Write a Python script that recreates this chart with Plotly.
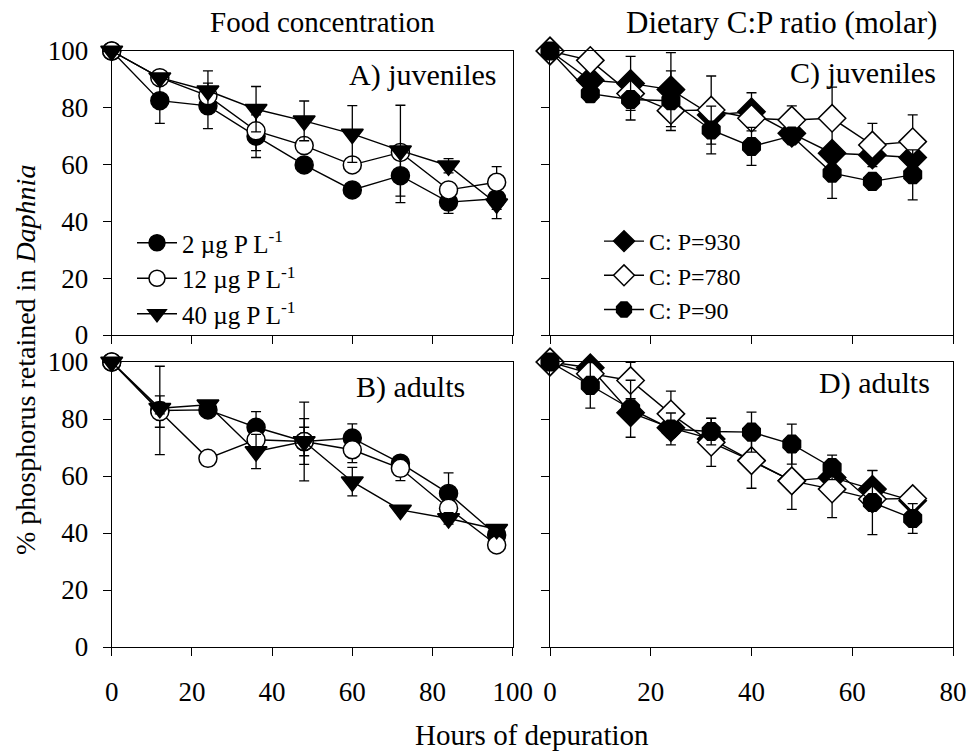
import plotly.graph_objects as go

# ---------------- data ----------------
hours_food = [0, 12, 24, 36, 48, 60, 72, 84, 96]
hours_cp = [0, 8, 16, 24, 32, 40, 48, 56, 64, 72]

# Panel A (juveniles, food concentration)
A_2 = [100, 82.5, 80.7, 70, 59.9, 51.1, 56.1, 46.8, 48.0]
A_2_err = [0, 8, 8, 7.5, 2, 1, 9.5, 4, 7]
A_12 = [100, 90.6, 84.2, 71.9, 66.7, 59.9, 64.3, 51.1, 53.8]
A_12_err = [0, 1, 3, 7, 2, 2, 1, 2, 5.5]
A_40 = [100, 90.6, 86, 79.5, 75.4, 70.8, 64.9, 59.6, 46.2]
A_40_err = [0, 1, 7, 8, 7, 10, 16, 2.5, 2]

# Panel B (adults, food concentration)
B_2 = [100, 83, 83.2, 77.1, 72.1, 73.3, 64.5, 53.9, 39.3]
B_2_err = [0, 15.5, 2, 5.5, 13.8, 5, 1, 7.2, 1]
B_12 = [100, 82.6, 66.2, 72.7, 72.1, 69.2, 62.7, 48.7, 35.8]
B_12_err = [0, 5.5, 1, 3, 5, 4.5, 4.3, 2, 1]
B_40 = [100, 83.8, 85, 68.6, 72.1, 58, 48.1, 45.1, 41.3]
B_40_err = [0, 2, 1, 6, 8, 5, 1, 2, 1]

# Panel C (juveniles, C:P ratio)
C_930 = [100, 89.7, 88.6, 86.4, 77.5, 78.6, 71, 64, 63.4, 62.5]
C_930_err = [0, 2, 9.5, 13, 3, 6.7, 2, 3, 2, 2]
C_780 = [100, 96.7, 85, 79, 79.2, 76.3, 75.7, 76.3, 66.9, 68.1]
C_780_err = [0, 1, 2, 3, 12, 3, 5, 11, 7.6, 9.4]
C_90 = [100, 85, 82.9, 82.5, 72.2, 66.4, 70.1, 57, 54.1, 56.4]
C_90_err = [0, 3, 7.2, 10.5, 8.4, 6.7, 2, 8.9, 2.5, 8.8]

# Panel D (adults, C:P ratio)
D_930 = [100, 98, 82.2, 76.9, 73, 65.4, 58.3, 59.5, 55.4, 51.3]
D_930_err = [0, 1, 2, 2, 2, 9.7, 10, 2, 6.5, 1.5]
D_780 = [100, 95.9, 93.5, 81.8, 71.8, 65.4, 58.3, 55.4, 51.9, 52.1]
D_780_err = [0, 1, 6.4, 8, 8.4, 3, 3, 10, 3, 1.5]
D_90 = [100, 91.8, 83.6, 76.5, 75.6, 75.4, 71.2, 63, 50.7, 45.1]
D_90_err = [0, 8, 10, 5.6, 4.7, 7, 7, 4.3, 11.3, 5.2]

food_names = ["2 µg P L<sup>-1</sup>", "12 µg P L<sup>-1</sup>", "40 µg P L<sup>-1</sup>"]
cp_names = ["C: P=930", "C: P=780", "C: P=90"]
y_ticks = [0, 20, 40, 60, 80, 100]
x_ticks_food = [0, 20, 40, 60, 80, 100]
x_ticks_cp = [0, 20, 40, 60, 80]

FONT = "Liberation Serif"
BLACK = "black"

fig = go.Figure()


def add(x, y, err, name, symbol, fill, size, xa, ya, legend, show):
    fig.add_trace(go.Scatter(
        x=x, y=y, name=name, mode="lines+markers",
        xaxis=xa, yaxis=ya, legend=legend, showlegend=show,
        cliponaxis=False,
        line=dict(color=BLACK, width=1.4),
        marker=dict(symbol=symbol, size=size, color=fill,
                    line=dict(color=BLACK, width=1.5)),
        error_y=dict(type="data", array=err, visible=True,
                     color=BLACK, thickness=1.3, width=5),
    ))


# Panel A
add(hours_food, A_2, A_2_err, food_names[0], "circle", BLACK, 18, "x", "y", "legend", True)
add(hours_food, A_12, A_12_err, food_names[1], "circle", "white", 18, "x", "y", "legend", True)
add(hours_food, A_40, A_40_err, food_names[2], "triangle-down", BLACK, 19, "x", "y", "legend", True)
# Panel B
add(hours_food, B_2, B_2_err, food_names[0], "circle", BLACK, 18, "x3", "y3", "legend", False)
add(hours_food, B_12, B_12_err, food_names[1], "circle", "white", 18, "x3", "y3", "legend", False)
add(hours_food, B_40, B_40_err, food_names[2], "triangle-down", BLACK, 19, "x3", "y3", "legend", False)
# Panel C
add(hours_cp, C_930, C_930_err, cp_names[0], "diamond", BLACK, 21, "x2", "y2", "legend2", True)
add(hours_cp, C_780, C_780_err, cp_names[1], "diamond", "white", 21, "x2", "y2", "legend2", True)
add(hours_cp, C_90, C_90_err, cp_names[2], "octagon", BLACK, 19, "x2", "y2", "legend2", True)
# Panel D
add(hours_cp, D_930, D_930_err, cp_names[0], "diamond", BLACK, 21, "x4", "y4", "legend2", False)
add(hours_cp, D_780, D_780_err, cp_names[1], "diamond", "white", 21, "x4", "y4", "legend2", False)
add(hours_cp, D_90, D_90_err, cp_names[2], "octagon", BLACK, 19, "x4", "y4", "legend2", False)

W, H = 969, 751
xl = [111.7 / W, 512.7 / W]
xr = [550 / W, 953 / W]
yt = [1 - 335 / H, 1 - 51 / H]
yb = [1 - 647 / H, 1 - 362 / H]

axis_common = dict(showline=True, linecolor=BLACK, linewidth=1.3, mirror=True,
                   ticks="outside", ticklen=8, tickwidth=1.2, tickcolor=BLACK,
                   showgrid=False, zeroline=False, automargin=False,
                   tickfont=dict(family=FONT, size=27, color=BLACK))


def xax(domain, rng, tv, anchor, labels):
    d = dict(axis_common)
    d.update(domain=domain, range=rng, tickvals=tv, anchor=anchor,
             showticklabels=labels, ticklabelstandoff=12)
    return d


def yax(domain, anchor, labels):
    d = dict(axis_common)
    d.update(domain=domain, range=[0, 100], tickvals=y_ticks, anchor=anchor,
             showticklabels=labels, ticklabelstandoff=9)
    return d


fig.update_layout(
    template="none",
    width=W, height=H,
    margin=dict(l=0, r=0, t=0, b=0, pad=0, autoexpand=False),
    paper_bgcolor="white", plot_bgcolor="white",
    font=dict(family=FONT, size=22, color=BLACK),
    xaxis=xax(xl, [0, 100], x_ticks_food, "y", False),
    yaxis=yax(yt, "x", True),
    xaxis2=xax(xr, [0, 80], x_ticks_cp, "y2", False),
    yaxis2=yax(yt, "x2", False),
    xaxis3=xax(xl, [0, 100], x_ticks_food, "y3", True),
    yaxis3=yax(yb, "x3", True),
    xaxis4=xax(xr, [0, 80], x_ticks_cp, "y4", True),
    yaxis4=yax(yb, "x4", False),
    legend=dict(x=132 / W, y=1 - 220 / H, xanchor="left", yanchor="top",
                bgcolor="rgba(0,0,0,0)", font=dict(family=FONT, size=25, color=BLACK),
                tracegroupgap=0, itemwidth=40),
    legend2=dict(x=599 / W, y=1 - 219 / H, xanchor="left", yanchor="top",
                 bgcolor="rgba(0,0,0,0)", font=dict(family=FONT, size=24, color=BLACK),
                 tracegroupgap=0, itemwidth=40),
    showlegend=True,
)

titles = [
    ("Food concentration", 322 / W, 1 - 22 / H, 29),
    ("Dietary C:P ratio (molar)", 781 / W, 1 - 22 / H, 31),
    ("Hours of depuration", 532 / W, 1 - 735 / H, 29),
]
for t, x, y, s in titles:
    fig.add_annotation(xref="paper", yref="paper", showarrow=False, text=t,
                       x=x, y=y, xanchor="center", yanchor="middle",
                       font=dict(family=FONT, size=s, color=BLACK))

fig.add_annotation(xref="paper", yref="paper", showarrow=False,
                   text="% phosphorus retained in <i>Daphnia</i>",
                   x=25 / W, y=1 - 360 / H, textangle=-90,
                   xanchor="center", yanchor="middle",
                   font=dict(family=FONT, size=28, color=BLACK))

panel_labels = [
    ("A) juveniles", 498 / W, 1 - 75 / H),
    ("B) adults", 467 / W, 1 - 387 / H),
    ("C) juveniles", 938 / W, 1 - 73 / H),
    ("D) adults", 932 / W, 1 - 383 / H),
]
for t, x, y in panel_labels:
    fig.add_annotation(xref="paper", yref="paper", showarrow=False, text=t,
                       x=x, y=y, xanchor="right", yanchor="middle",
                       font=dict(family=FONT, size=30, color=BLACK))

fig.write_html("out.html")
